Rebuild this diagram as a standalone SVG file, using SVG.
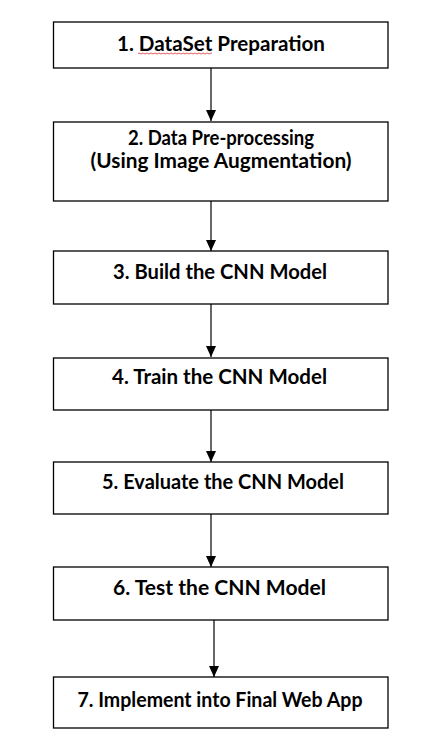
<svg xmlns="http://www.w3.org/2000/svg" width="430" height="755" viewBox="0 0 430 755">
<defs>
<style>
.box{fill:#fff;stroke:#000;stroke-width:1.3}
.t{font-family:Lato,"Open Sans","Liberation Sans",sans-serif;font-weight:bold;font-size:20.5px;fill:#000;text-anchor:middle}
.c{stroke:#000;stroke-width:1.2;fill:none}
</style>
<marker id="ah" markerWidth="11" markerHeight="10" refX="11" refY="5" orient="auto" markerUnits="userSpaceOnUse" viewBox="0 0 11 10">
<path d="M0,0 L11,5 L0,10 Z" fill="#000"/>
</marker>
</defs>
<rect width="430" height="755" fill="#fff"/>
<g id="connectors">
<line class="c" x1="211" y1="68" x2="211" y2="121" marker-end="url(#ah)"/>
<line class="c" x1="211" y1="201" x2="211" y2="251" marker-end="url(#ah)"/>
<line class="c" x1="211" y1="304" x2="211" y2="357" marker-end="url(#ah)"/>
<line class="c" x1="211" y1="410" x2="211" y2="462" marker-end="url(#ah)"/>
<line class="c" x1="211" y1="514" x2="211" y2="567" marker-end="url(#ah)"/>
<line class="c" x1="214" y1="620" x2="214" y2="677" marker-end="url(#ah)"/>
</g>
<g id="node1">
<rect class="box" x="53.5" y="22" width="334.5" height="46"/>
<text class="t" x="221" y="51" textLength="208" lengthAdjust="spacingAndGlyphs">1. DataSet Preparation</text>
<path d="M138,53.5 q1,-1 2,0 t2,0 t2,0 t2,0 t2,0 t2,0 t2,0 t2,0 t2,0 t2,0 t2,0 t2,0 t2,0 t2,0 t2,0 t2,0 t2,0 t2,0 t2,0 t2,0 t2,0 t2,0 t2,0 t2,0 t2,0 t2,0 t2,0 t2,0 t2,0 t2,0 t2,0 t2,0 t2,0 t2,0 t2,0 t2,0 t2,0" fill="none" stroke="#e03030" stroke-width="0.8"/>
</g>
<g id="node2">
<rect class="box" x="53.5" y="122" width="334.5" height="79"/>
<text class="t" x="221" y="144.5" textLength="186" lengthAdjust="spacingAndGlyphs">2. Data Pre-processing</text>
<text class="t" x="221" y="167.5" textLength="261" lengthAdjust="spacingAndGlyphs">(Using Image Augmentation)</text>
</g>
<g id="node3">
<rect class="box" x="53.5" y="251" width="334.5" height="53"/>
<text class="t" x="220" y="279" textLength="214" lengthAdjust="spacingAndGlyphs">3. Build the CNN Model</text>
</g>
<g id="node4">
<rect class="box" x="53.5" y="358" width="334.5" height="52"/>
<text class="t" x="219.5" y="384" textLength="215" lengthAdjust="spacingAndGlyphs">4. Train the CNN Model</text>
</g>
<g id="node5">
<rect class="box" x="53.5" y="462" width="334.5" height="52"/>
<text class="t" x="223" y="489" textLength="242" lengthAdjust="spacingAndGlyphs">5. Evaluate the CNN Model</text>
</g>
<g id="node6">
<rect class="box" x="53.5" y="567" width="334.5" height="53"/>
<text class="t" x="219.5" y="595" textLength="213" lengthAdjust="spacingAndGlyphs">6. Test the CNN Model</text>
</g>
<g id="node7">
<rect class="box" x="53.5" y="677" width="334.5" height="51"/>
<text class="t" x="220" y="706.5" textLength="285" lengthAdjust="spacingAndGlyphs">7. Implement into Final Web App</text>
</g>
</svg>
